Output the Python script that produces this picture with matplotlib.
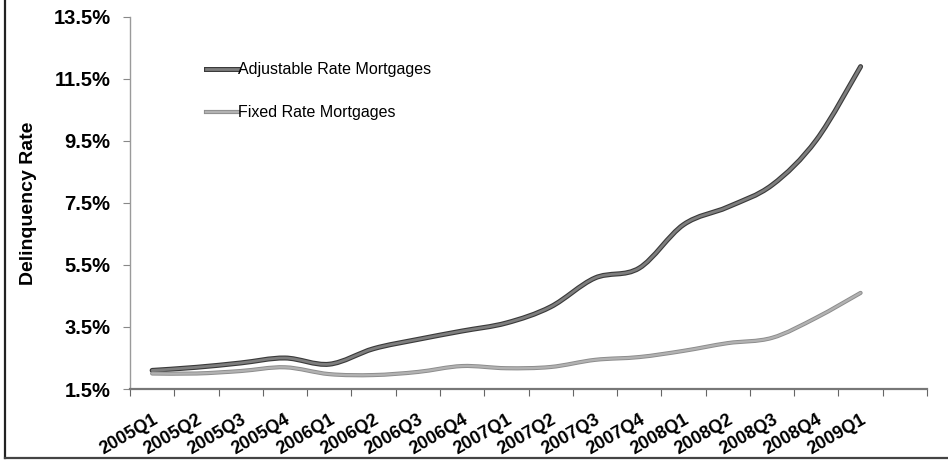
import numpy as np
import matplotlib
matplotlib.use("Agg")
import matplotlib.pyplot as plt
import matplotlib.patheffects as pe
from matplotlib.path import Path
from matplotlib.patches import PathPatch
from matplotlib.lines import Line2D

quarters = ["2005Q1", "2005Q2", "2005Q3", "2005Q4",
            "2006Q1", "2006Q2", "2006Q3", "2006Q4",
            "2007Q1", "2007Q2", "2007Q3", "2007Q4",
            "2008Q1", "2008Q2", "2008Q3", "2008Q4",
            "2009Q1"]
arm_rate = [2.1, 2.2, 2.34, 2.5, 2.3, 2.8, 3.1, 3.37, 3.63, 4.15,
            5.08, 5.4, 6.8, 7.37, 8.08, 9.53, 11.9]
frm_rate = [2.0, 2.0, 2.08, 2.2, 1.98, 1.95, 2.05, 2.24, 2.17, 2.21,
            2.44, 2.53, 2.73, 2.98, 3.15, 3.8, 4.6]
n_slots = 18  # category axis has one empty slot at the end

plt.rcParams['font.family'] = ['Liberation Sans', 'DejaVu Sans']


def smooth_path(xs, ys):
    # Catmull-Rom style bezier through every point (like a "smoothed line")
    pts = np.column_stack([xs, ys]).astype(float)
    verts = [pts[0]]
    codes = [Path.MOVETO]
    n = len(pts)
    for i in range(n - 1):
        p0 = pts[max(i - 1, 0)]
        p1 = pts[i]
        p2 = pts[i + 1]
        p3 = pts[min(i + 2, n - 1)]
        c1 = p1 + (p2 - p0) / 6.0
        c2 = p2 - (p3 - p1) / 6.0
        verts += [c1, c2, p2]
        codes += [Path.CURVE4] * 3
    return Path(verts, codes)


fig = plt.figure(figsize=(9.48, 4.61), dpi=100)
ax = fig.add_axes([130 / 948, 1 - 389 / 461, 797 / 948, 372 / 461])

x = np.arange(len(quarters)) + 0.5

# name, values, inner colour, edge colour, width
series = [
    ("Adjustable Rate Mortgages", arm_rate, "#7e7e7e", "#3a3a3a", 3.6),
    ("Fixed Rate Mortgages", frm_rate, "#b2b2b2", "#8c8c8c", 3.0),
]
handles = []
for name, vals, col, edge, lw in series:
    effects = [pe.Stroke(linewidth=lw, foreground=edge), pe.Normal()]
    patch = PathPatch(smooth_path(x, vals), fill=False, edgecolor=col,
                      linewidth=lw * 0.55, capstyle='round',
                      joinstyle='round', path_effects=effects)
    ax.add_patch(patch)
    handles.append(Line2D([], [], color=col, linewidth=lw * 0.55,
                          path_effects=effects, label=name))

ax.set_xlim(0, n_slots)
ax.set_ylim(1.5, 13.5)
ax.set_yticks(np.arange(1.5, 13.6, 2.0))
ax.set_yticklabels([f"{v:.1f}%" for v in np.arange(1.5, 13.6, 2.0)],
                   fontsize=14.5, fontweight='bold')

ax.set_xticks(np.arange(0, n_slots + 1))
ax.set_xticklabels([])
ax.set_xticks(x, minor=True)
ax.set_xticklabels(quarters, minor=True, rotation=30, ha='right',
                   va='top', rotation_mode='anchor',
                   fontsize=13, fontweight='bold')
ax.tick_params(axis='x', which='minor', length=0, pad=16)
ax.tick_params(axis='x', which='major', length=5, color='#666666')
ax.tick_params(axis='y', length=5, color='#888888', pad=9)

for side in ('top', 'right'):
    ax.spines[side].set_visible(False)
ax.spines['left'].set_color('#9a9a9a')
ax.spines['left'].set_linewidth(1.0)
ax.spines['bottom'].set_color('#777777')
ax.spines['bottom'].set_linewidth(1.6)

ax.set_ylabel("Delinquency Rate", fontsize=14, fontweight='bold', labelpad=12)

ax.legend(handles=handles, loc='upper left', bbox_to_anchor=(0.077, 0.917),
          frameon=False, fontsize=11.5, handlelength=2.0,
          handletextpad=0.05, labelspacing=1.75)

# outer frame (left and bottom edges)
fig.add_artist(Line2D([4.5 / 948, 4.5 / 948], [1 - 458 / 461, 1.0],
                      transform=fig.transFigure, color='#222222', lw=1.6))
fig.add_artist(Line2D([4.5 / 948, 1.0], [1 - 458 / 461, 1 - 458 / 461],
                      transform=fig.transFigure, color='#444444', lw=1.6))

fig.savefig("out.png", dpi=100)
